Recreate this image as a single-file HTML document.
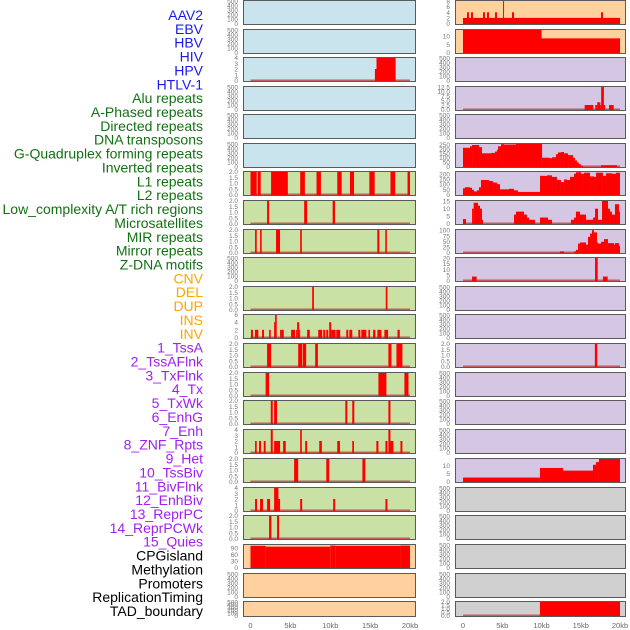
<!DOCTYPE html>
<html><head><meta charset="utf-8"><style>
html,body{margin:0;padding:0;background:#fff;}
svg{display:block;font-family:"Liberation Sans",sans-serif;}
</style></head><body>
<svg id="chart" width="630" height="630" viewBox="0 0 630 630" xmlns="http://www.w3.org/2000/svg"></svg>
<script>
// ---------- data ----------
const trackLabels = ["AAV2","EBV","HBV","HIV","HPV","HTLV-1","Alu repeats","A-Phased repeats","Directed repeats","DNA transposons","G-Quadruplex forming repeats","Inverted repeats","L1 repeats","L2 repeats","Low_complexity A/T rich regions","Microsatellites","MIR repeats","Mirror repeats","Z-DNA motifs","CNV","DEL","DUP","INS","INV","1_TssA","2_TssAFlnk","3_TxFlnk","4_Tx","5_TxWk","6_EnhG","7_Enh","8_ZNF_Rpts","9_Het","10_TssBiv","11_BivFlnk","12_EnhBiv","13_ReprPC","14_ReprPCWk","15_Quies","CPGisland","Methylation","Promoters","ReplicationTiming","TAD_boundary"];
const labelGroups = [6,13,5,15,5];
const xTickValues = [0,5,10,15,20];
const xTickLabels = ["0","5kb","10kb","15kb","20kb"];
const ticksEmpty = [0,100,200,300,400,500];
const ticks2 = [0,0.5,1,1.5,2];
const ticks4 = [0,1,2,3,4];
const ticks4b = [0,2,4,6];
const ticksCpg = [0,30,60,90];
const ticksR1 = [0,2,4,6,8];
const ticksR2 = [0,5,10];
const ticksR4 = [0,2.5,5,7.5,10,12.5];
const ticksR6 = [0,50,100,150,200,250];
const ticksR7 = [0,50,100,150,200];
const ticksR8 = [0,5,10,15];
const ticksR9 = [0,25,50,75,100];
const ticksR10 = [0,5,10,15,20];

// segments: [startKb, endKb, value]
const L3 = [[15.6,15.8,2],[15.8,18.2,4]];
const L7 = [[0,0.78,2],[0.9,1.28,2],[2.58,4.68,2],[6.23,6.82,2],[8.28,8.83,2],[10.88,11.43,2],[12.47,12.98,2],[14.9,15.57,2],[17.55,18.14,2],[19.69,20.0,2]];
const L8 = [[2.08,2.33,2],[6.73,7.1,2],[10.3,10.6,2]];
const L9 = [[0.57,0.78,2],[1.2,1.4,2],[3.2,3.7,2],[6.23,6.44,2],[15.9,16.16,2],[16.9,17.1,2]];
const L11 = [[7.73,7.95,2],[16.96,17.17,2]];
const L12 = [[0.06,0.31,2],[0.56,0.98,2],[1.45,1.7,2],[2.33,2.54,2],[2.96,3.08,4],[3.08,3.29,6],[3.71,4.17,2],[5.09,5.6,2],[5.72,5.85,2],[5.85,6.1,4],[6.1,6.14,2],[7.1,7.44,2],[8.49,8.99,2],[9.12,9.37,2],[9.5,9.75,2],[9.87,10.12,4],[10.12,10.67,2],[10.75,11.25,2],[12.01,12.26,2],[12.39,12.76,2],[13.52,13.77,2],[13.9,14.53,2],[14.78,14.99,2],[15.37,15.66,2],[15.91,16.41,2],[16.79,17.25,2],[18.43,18.72,2]];
const L13 = [[2.08,2.58,2],[5.98,6.48,2],[6.56,6.98,2],[8.11,8.45,2],[17.29,17.67,2],[18.3,19.05,2]];
const L14 = [[1.9,2.33,2],[16.04,17.04,2],[19.3,19.81,2]];
const L15 = [[2.54,2.79,2],[2.96,3.33,2],[11.89,12.14,2],[12.76,13.02,2],[17.29,17.55,2]];
const L16 = [[0.57,0.78,2],[1.07,1.32,2],[1.66,1.9,2],[2.54,2.79,4],[2.96,3.71,2],[4.09,4.42,2],[6.23,6.44,4],[6.86,7.1,2],[8.62,8.95,2],[10.88,11.22,2],[12.76,12.98,2],[15.78,16.04,2],[16.92,17.17,2],[17.29,17.55,4],[17.55,17.92,2],[18.8,19.05,2]];
const L17 = [[5.47,5.98,2],[9.5,9.87,2],[14.03,14.4,2]];
const L18 = [[0.57,0.82,2],[1.2,1.57,2],[2.08,2.46,2],[2.96,3.5,4],[3.5,3.71,2],[6.23,6.48,2],[10.37,10.62,2],[16.92,17.17,2]];
const L19 = [[2.33,2.62,2],[3.33,3.58,2]];
const L20 = [[0,1.9,100],[1.9,10,96],[10,10.7,101],[10.7,18.8,100],[18.8,20,101]];

const R1 = [[0,20,2],[0.51,0.76,4],[1.02,1.27,4],[2.55,2.8,4],[3.06,3.31,4],[4.08,4.33,4],[5.1,5.22,8],[6.24,6.5,4],[17.58,17.83,4]];
const R2 = [[0,10,14],[10,20,8.6]];
const R4 = [[15.5,16.6,2.5],[16.85,17.1,2.5],[17.1,17.5,4],[17.5,17.6,2.5],[17.6,17.95,12.5],[17.95,18.1,2.5],[18.6,19.2,2.5]];
const R6 = [[0,0.89,213],[0.89,1.15,230],[1.15,2.04,245],[2.04,2.42,220],[2.42,3.57,150],[3.57,4.08,155],[4.08,4.33,170],[4.33,4.46,190],[4.46,4.84,230],[4.84,5.22,255],[5.22,6.75,250],[6.75,10.07,262],[10.07,10.96,100],[10.96,11.34,95],[11.34,11.85,105],[11.85,12.1,140],[12.1,12.48,160],[12.48,12.87,165],[12.87,13.38,150],[13.38,14.01,130],[14.01,14.27,100],[14.27,14.52,70],[14.52,14.78,45],[14.78,15.03,25],[15.03,15.29,10],[17.58,19.62,15]];
const R7 = [[0,0.25,60],[0.25,0.89,70],[0.89,1.15,65],[1.15,1.4,45],[1.4,1.78,30],[1.78,2.04,40],[2.04,2.29,70],[2.29,3.31,140],[3.31,3.82,130],[3.82,4.33,115],[4.33,4.71,100],[4.71,5.86,50],[5.86,6.5,55],[6.5,7.0,40],[7.0,9.81,25],[9.81,10.7,180],[10.7,11.34,185],[11.34,11.97,170],[11.97,12.48,140],[12.48,12.87,120],[12.87,13.25,145],[13.25,13.63,140],[13.63,14.14,170],[14.14,14.39,200],[14.39,15.03,215],[15.03,15.41,200],[15.41,16.18,210],[16.18,16.69,175],[16.69,16.94,170],[16.94,17.83,210],[17.83,18.22,180],[18.22,18.98,205],[18.98,19.49,200],[19.49,20,210]];
const R8 = [[0,0.38,3],[1.15,1.36,10],[1.36,1.91,14],[1.91,2.17,12],[2.17,2.42,10],[2.42,2.55,2.5],[6.5,6.75,6],[6.75,7.77,8],[7.77,8.15,6],[8.15,8.41,4],[8.41,9.17,2.5],[9.81,10.83,4],[10.83,11.34,2.5],[13.76,14.14,2.5],[14.14,14.39,4],[14.39,14.9,8],[14.9,15.67,6],[15.67,16.56,2.5],[16.56,16.82,4],[16.82,17.2,10],[17.2,17.71,2.5],[17.71,18.47,17],[18.47,18.73,10],[18.73,18.98,8],[18.98,19.36,6],[19.36,19.87,13],[19.87,20,8]];
const R9 = [[12.36,12.87,5],[14.14,14.39,5],[14.39,14.65,12],[14.65,14.9,40],[14.9,15.67,45],[15.67,15.92,35],[15.92,16.18,70],[16.18,16.43,85],[16.43,16.69,100],[16.69,17.07,90],[17.07,17.2,45],[17.2,17.58,40],[17.58,17.96,48],[17.96,18.47,60],[18.47,19.24,42],[19.24,19.36,35],[19.36,19.87,42],[19.87,20,30]];
const R10 = [[1.15,1.74,3.5],[16.82,17.16,21],[17.83,18.43,3.5]];
const R13 = [[16.8,17.1,2]];
const R17 = [[0,9.8,2.5],[9.8,12.74,8.6],[12.74,16.56,6.9],[16.56,16.94,10.6],[16.94,17.32,12.3],[17.32,20,14.4]];
const R22 = [[9.8,20,2]];

// ---------- layout ----------
const rowTops = [0,29,57,86,114,143,171,200,229,257,286,314,343,372,400,429,458,487,515,544,573,601];
const rowH = 25;
const lastH = 16;
const BG = {blue:"#c9e4ec",green:"#c9e1a5",orange:"#ffd19f",purple:"#d5c6e3",gray:"#d0d0d0"};
const cols = [
  {x0:243,x1:416,k0:250.5,k20:410,tickX:238},
  {x0:455,x1:626,k0:463,k20:620,tickX:450}
];
// [segments, ticks, ymax, bg, decimals, baseline]
const leftPanels = [
 [null,ticksEmpty,510,"blue",0,false],[null,ticksEmpty,510,"blue",0,false],[L3,ticks4,4,"blue",0,true],
 [null,ticksEmpty,510,"blue",0,false],[null,ticksEmpty,510,"blue",0,false],[null,ticksEmpty,510,"blue",0,false],
 [L7,ticks2,2,"green",1,true],[L8,ticks2,2,"green",1,true],[L9,ticks2,2,"green",1,true],
 [null,ticksEmpty,510,"green",0,false],[L11,ticks2,2,"green",1,true],[L12,ticks4b,6,"green",0,true],
 [L13,ticks2,2,"green",1,true],[L14,ticks2,2,"green",1,true],[L15,ticks2,2,"green",1,true],
 [L16,ticks4,4,"green",0,true],[L17,ticks2,2,"green",1,true],[L18,ticks4,4,"green",0,true],
 [L19,ticks2,2,"green",1,true],[L20,ticksCpg,106,"orange",0,false],[null,ticksEmpty,510,"orange",0,false],
 [null,ticksEmpty,510,"orange",0,false]
];
const rightPanels = [
 [R1,ticksR1,8.2,"orange",0,false],[R2,ticksR2,14,"orange",0,false],[null,ticksEmpty,510,"purple",0,false],
 [R4,ticksR4,12.8,"purple",1,true],[null,ticksEmpty,510,"purple",0,false],[R6,ticksR6,262,"purple",0,true],
 [R7,ticksR7,222,"purple",0,true],[R8,ticksR8,15.5,"purple",0,true],[R9,ticksR9,103,"purple",0,true],
 [R10,ticksR10,20.5,"purple",0,true],[null,ticksEmpty,510,"purple",0,false],[null,ticksEmpty,510,"purple",0,false],
 [R13,ticks2,2,"purple",1,true],[null,ticksEmpty,510,"purple",0,false],[null,ticksEmpty,510,"purple",0,false],
 [null,ticksEmpty,510,"purple",0,false],[R17,ticksR2,14.6,"purple",0,false],[null,ticksEmpty,510,"gray",0,false],
 [null,ticksEmpty,510,"gray",0,false],[null,ticksEmpty,510,"gray",0,false],[null,ticksEmpty,510,"gray",0,false],
 [R22,ticks2,2,"gray",1,true]
];

const NS = "http://www.w3.org/2000/svg";
const svg = document.getElementById("chart");
function mk(tag, attrs, parent){
  const e = document.createElementNS(NS, tag);
  for (const k in attrs) e.setAttribute(k, attrs[k]);
  (parent||svg).appendChild(e);
  return e;
}

// labels
const groupColors = ["#1a1aee","#137013","#ffa500","#a020f0","#000000"];
let li = 0;
const labelLayer = mk("g",{});


labelGroups.forEach((n,g)=>{
  for (let i=0;i<n;i++,li++){
    const y = 15 + li*(596/43);
    const t = mk("text",{x:203,y:(y+5).toFixed(1),"text-anchor":"end","font-size":"14",fill:groupColors[g]},labelLayer);
    t.textContent = trackLabels[li];
    
    
  }
});

function drawPanel(col, r, p, side){
  const [segs,ticks,ymax,bg,dec,base] = p;
  const c = cols[col];
  const top = rowTops[r];
  const h = (r===rowTops.length-1) ? lastH : rowH;
  const bottom = top + h;
  const xs = kb => c.k0 + (kb/20)*(c.k20-c.k0);
  const y0 = bottom - 1.5, y1 = top + 0.5;
  const ys = v => y0 - Math.min(v,ymax)/ymax*(y0-y1);
  const g = mk("g",{});
  
  
  const bgr = mk("rect",{x:c.x0+0.5,y:top+0.5,width:c.x1-c.x0-1,height:h-1,fill:BG[bg],stroke:"none"},g);
  
  
  if (base){
    const bl = mk("line",{x1:xs(0),x2:xs(20),y1:y0,y2:y0,stroke:"#c04040","stroke-width":"2","stroke-opacity":"0.8"},g);
    
    
  }
  if (segs){
    segs.forEach(s=>{
      const xa = xs(s[0]), xb = xs(s[1]);
      const yt = ys(s[2]);
      const b = mk("rect",{x:xa.toFixed(2),y:yt.toFixed(2),width:Math.max(xb-xa,1).toFixed(2),height:(y0-yt+0.5).toFixed(2),fill:"#ff0000"},g);
      
      
    });
  }
  const fr = mk("rect",{x:c.x0+0.5,y:top+0.5,width:c.x1-c.x0-1,height:h-1,fill:"none",stroke:"#5a5a5a","stroke-width":"1"},g);
  
  
  ticks.forEach(v=>{
    const t = mk("text",{x:c.tickX,y:(ys(v)+2.5).toFixed(1),"text-anchor":"end","font-size":"6.5",fill:"#777"},g);
    t.textContent = dec ? v.toFixed(dec) : String(v);
    
    
  });
}
leftPanels.forEach((p,r)=>drawPanel(0,r,p,"left"));
rightPanels.forEach((p,r)=>drawPanel(1,r,p,"right"));

// x axes
[0,1].forEach(ci=>{
  const c = cols[ci];
  const xs = kb => c.k0 + (kb/20)*(c.k20-c.k0);
  xTickValues.forEach((v,i)=>{
    const t = mk("text",{x:xs(v).toFixed(1),y:628,"text-anchor":"middle","font-size":"7.5",fill:"#666"});
    t.textContent = xTickLabels[i];
    
    
  });
});
</script>
</body></html>
